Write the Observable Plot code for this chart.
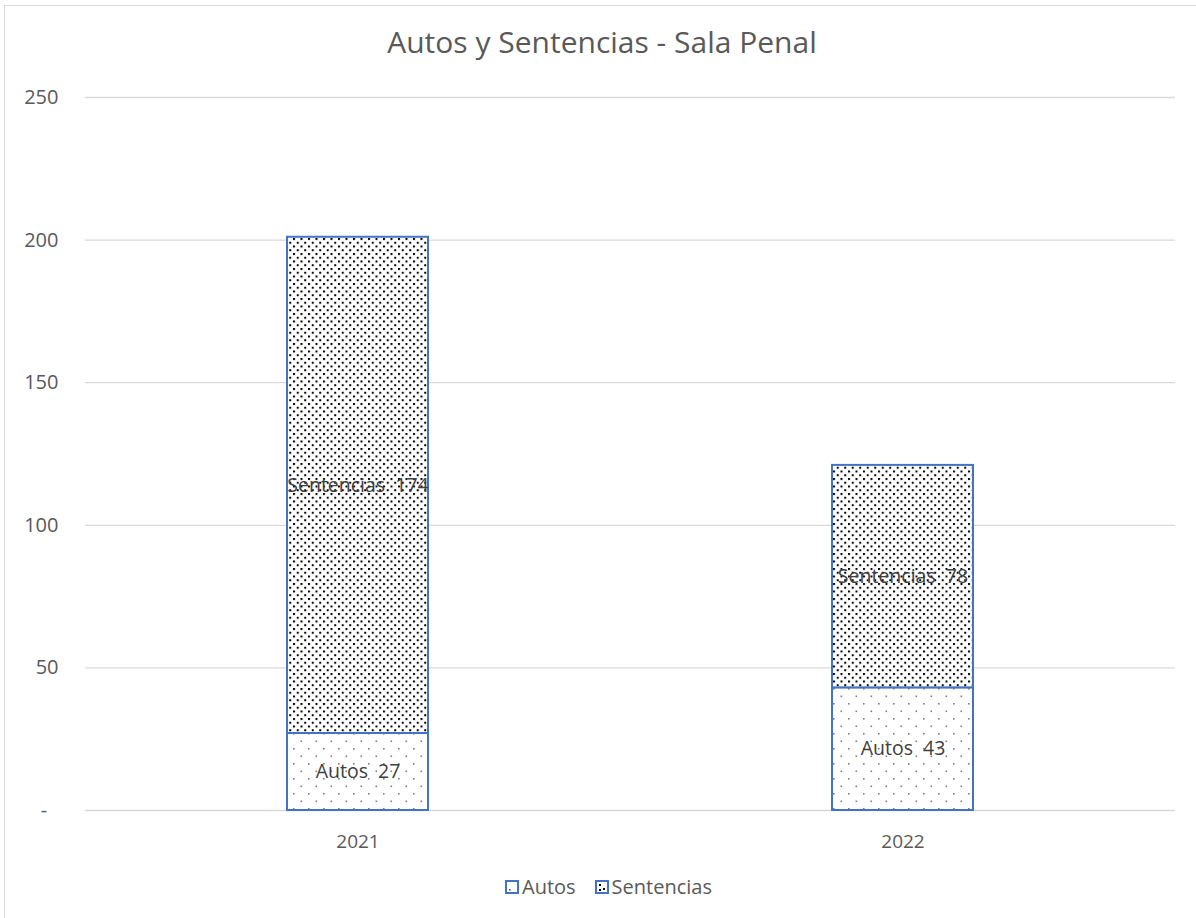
<!DOCTYPE html>
<html>
<head>
<meta charset="utf-8">
<script src="https://cdn.jsdelivr.net/npm/d3@7"></script>
<script src="https://cdn.jsdelivr.net/npm/@observablehq/plot@0.6"></script>
<style>
  html, body { margin: 0; padding: 0; background: #fff; overflow: hidden; width: 1196px; height: 918px; }
  body { position: relative; font-family: "Open Sans", sans-serif; }
  #frame { position: absolute; left: 4px; top: 5px; width: 1300px; height: 1000px; border: 1px solid #d9d9d9; }
  #title { position: absolute; left: 0; width: 1204px; top: 27px; text-align: center; font-size: 30px; line-height: 30px; color: #595959; }
  #chart { position: absolute; left: 8px; top: 88px; }
  #legend { position: absolute; left: 505px; top: 875px; display: flex; align-items: center; font-size: 20px; color: #595959; line-height: 24px; }
  #legend .item { display: flex; align-items: center; }
  #legend svg { display: block; margin-right: 3px; }
</style>
</head>
<body>
<svg width="0" height="0" style="position:absolute">
  <defs>
    <pattern id="patAutos" patternUnits="userSpaceOnUse" width="15" height="15">
      <rect width="15" height="15" fill="#ffffff"/>
      <rect x="0" y="0" width="1.6" height="1.6" fill="#7f7f7f"/>
      <rect x="7.5" y="7.5" width="1.6" height="1.6" fill="#7f7f7f"/>
    </pattern>
    <pattern id="patSent" patternUnits="userSpaceOnUse" width="7.5" height="7.5">
      <rect width="7.5" height="7.5" fill="#ffffff"/>
      <rect x="0" y="0" width="2" height="2" fill="#000000"/>
      <rect x="3.75" y="3.75" width="2" height="2" fill="#000000"/>
    </pattern>
    <pattern id="patAutosLeg" patternUnits="userSpaceOnUse" width="14" height="14">
      <rect width="14" height="14" fill="#ffffff"/>
      <rect x="4" y="9" width="1.6" height="1.6" fill="#595959"/>
    </pattern>
    <pattern id="patSentLeg" patternUnits="userSpaceOnUse" width="14" height="14">
      <rect width="14" height="14" fill="#ffffff"/>
      <rect x="4" y="4" width="2" height="2" fill="#000000"/>
      <rect x="8" y="8" width="2" height="2" fill="#000000"/>
      <rect x="4" y="9" width="2" height="2" fill="#000000"/>
    </pattern>
  </defs>
</svg>
<div id="frame"></div>
<div id="title">Autos y Sentencias - Sala Penal</div>
<div id="chart"></div>
<div id="legend"></div>
<script>
const years = ["2021", "2022"];
const autos = [27, 43];
const sentencias = [174, 78];
const seriesNames = ["Autos", "Sentencias"];
const seriesFills = ["url(#patAutos)", "url(#patSent)"];
const legendFills = ["url(#patAutosLeg)", "url(#patSentLeg)"];
const yTicks = [0, 50, 100, 150, 200, 250];

const data = years.flatMap((year, i) => [
  {year, serie: "Autos", value: autos[i]},
  {year, serie: "Sentencias", value: sentencias[i]}
]);

const chart = Plot.plot({
  width: 1178,
  height: 777,
  marginLeft: 77,
  marginRight: 11,
  marginTop: 9,
  marginBottom: 55,
  style: {fontFamily: "Open Sans, sans-serif", fontSize: "19px", color: "#595959", background: "transparent", overflow: "visible"},
  x: {domain: years, paddingInner: 0.741, paddingOuter: 0.3705, label: null},
  y: {domain: [0, 250], label: null},
  color: {type: "ordinal", domain: seriesNames, range: seriesFills},
  marks: [
    Plot.ruleY(yTicks, {stroke: "#d9d9d9", strokeWidth: 1.3}),
    Plot.barY(data, {x: "year", y: "value", fill: "serie", stroke: "#4472C4", strokeWidth: 2, order: seriesNames}),
    Plot.text(data, Plot.stackY({x: "year", y: "value", z: "serie", order: seriesNames,
      text: d => `${d.serie}  ${d.value}`, fill: "#404040", fontSize: 19.5})),
    Plot.axisY(yTicks, {tickSize: 0, tickPadding: 27, fontSize: 20, tickFormat: d => d === 0 ? "-\u2007" : String(d), fill: "#595959"}),
    Plot.axisX({tickSize: 0, tickPadding: 24, fontSize: 19, fill: "#595959"})
  ]
});
document.getElementById("chart").appendChild(chart);

const legend = document.getElementById("legend");
seriesNames.forEach((name, i) => {
  const item = document.createElement("div");
  item.className = "item";
  if (i > 0) item.style.marginLeft = "19px";
  item.innerHTML = `<svg width="14" height="14"><rect x="1" y="1" width="12" height="12" fill="${legendFills[i]}" stroke="#4472C4" stroke-width="2"/></svg><span>${name}</span>`;
  legend.appendChild(item);
});
</script>
</body>
</html>
